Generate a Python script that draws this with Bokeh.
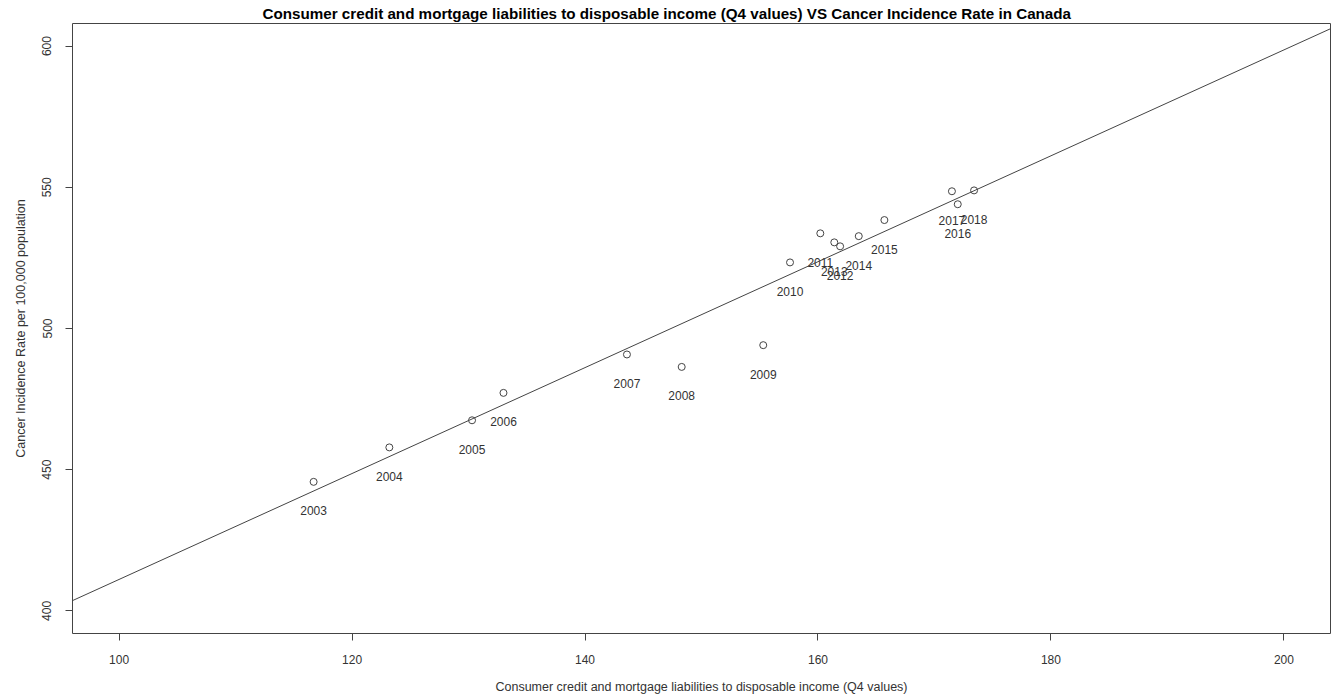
import numpy as np
from bokeh.plotting import figure
from bokeh.models import ColumnDataSource, FixedTicker, Slope, Range1d
from bokeh.core.properties import value
from bokeh.embed import file_html
from bokeh.resources import INLINE

years = ["2003", "2004", "2005", "2006", "2007", "2008", "2009", "2010",
         "2011", "2012", "2013", "2014", "2015", "2016", "2017", "2018"]
debt_ratio = [116.7, 123.2, 130.3, 133.0, 143.6, 148.3, 155.3, 157.6,
              160.2, 161.9, 161.4, 163.5, 165.7, 172.0, 171.5, 173.4]
cancer_rate = [445.7, 457.9, 467.5, 477.2, 490.8, 486.4, 494.1, 523.4,
               533.7, 529.1, 530.5, 532.7, 538.4, 544.0, 548.6, 548.9]
x_ticks = [100, 120, 140, 160, 180, 200]
y_ticks = [400, 450, 500, 550, 600]

title_text = ("Consumer credit and mortgage liabilities to disposable income (Q4 values) "
              "VS Cancer Incidence Rate in Canada")
x_title = "Consumer credit and mortgage liabilities to disposable income (Q4 values)"
y_title = "Cancer Incidence Rate per 100,000 population"

FONT = "Liberation Sans"

src = ColumnDataSource(dict(x=debt_ratio, y=cancer_rate, label=years))

p = figure(width=1335, height=698, output_backend="svg", toolbar_location=None,
           x_range=Range1d(96, 204), y_range=Range1d(392, 608),
           min_border_left=72, min_border_right=5, min_border_top=23,
           min_border_bottom=65)
p.background_fill_color = "white"
p.border_fill_color = "white"
p.outline_line_color = "#444444"
p.outline_line_width = 1
p.grid.visible = False

p.title.text = title_text
p.title.text_font = FONT
p.title.text_font_size = "15.2px"
p.title.text_font_style = "bold"
p.title.text_color = "black"
p.title.align = "left"
p.title.offset = 190
p.title.standoff = 4

for ax in (p.xaxis[0], p.yaxis[0]):
    ax.axis_line_color = None
    ax.major_tick_in = 0
    ax.major_tick_out = 7
    ax.major_tick_line_color = "#444444"
    ax.minor_tick_line_color = None
    ax.major_label_text_font = FONT
    ax.major_label_text_font_size = "12px"
    ax.major_label_text_color = "#333333"
    ax.axis_label_text_font = FONT
    ax.axis_label_text_font_size = "12.5px"
    ax.axis_label_text_font_style = "normal"
    ax.axis_label_text_color = "#333333"

p.xaxis.ticker = FixedTicker(ticks=x_ticks)
p.yaxis.ticker = FixedTicker(ticks=y_ticks)
p.xaxis.axis_label = x_title
p.yaxis.axis_label = y_title
p.xaxis.major_label_standoff = 14
p.xaxis.axis_label_standoff = 13
p.yaxis.major_label_orientation = "vertical"
p.yaxis.major_label_standoff = 14
p.yaxis.axis_label_standoff = 12

# regression line fitted to the data
slope, intercept = np.polyfit(np.array(debt_ratio), np.array(cancer_rate), 1)
p.add_layout(Slope(gradient=float(slope), y_intercept=float(intercept),
                   line_color="#444444", line_width=1))

p.scatter("x", "y", source=src, size=7, marker="circle", fill_color=None,
          line_color="#444444", line_width=1)
p.text("x", "y", text="label", source=src, text_font=value(FONT),
       text_font_size="12px", text_color="#333333", text_align="center",
       text_baseline="middle", y_offset=29)

open("out.html", "w").write(file_html(p, INLINE))
